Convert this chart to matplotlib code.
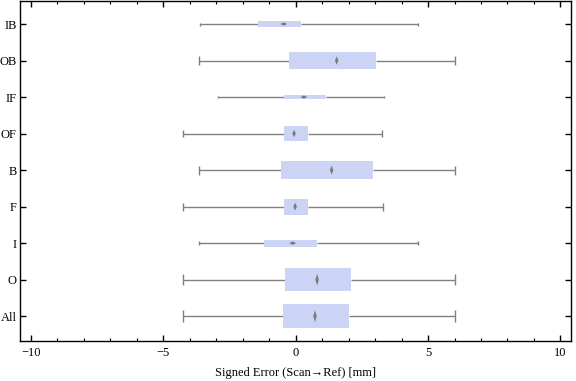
import matplotlib
matplotlib.use("Agg")
import matplotlib.pyplot as plt
import numpy as np
from matplotlib.ticker import MultipleLocator

plt.rcParams['font.family'] = ['Liberation Serif', 'DejaVu Serif']

categories = ["All", "O", "I", "F", "B", "OF", "IF", "OB", "IB"]
whisker_lo = [-4.25, -4.25, -3.65, -4.25, -3.65, -4.25, -2.94, -3.66, -3.62]
q1 = [-0.48, -0.41, -1.20, -0.45, -0.56, -0.45, -0.45, -0.26, -1.43]
median = [0.73, 0.81, -0.11, -0.02, 1.36, -0.06, 0.31, 1.55, -0.45]
q3 = [2.00, 2.08, 0.80, 0.45, 2.91, 0.45, 1.13, 3.03, 0.20]
whisker_hi = [6.02, 6.02, 4.63, 3.31, 6.02, 3.27, 3.32, 6.02, 4.62]
box_height = [0.66, 0.63, 0.19, 0.44, 0.49, 0.41, 0.11, 0.47, 0.165]

box_color = "#ccd4f5"
line_color = "#808080"
med_color = "#7a7a7a"

fig = plt.figure(figsize=(5.76, 3.81), dpi=100)
ax = fig.add_axes([20.3/576, 1 - 341/381, (571-20.3)/576, (341-1)/381])

pos = np.arange(1, len(categories) + 1)
q1a, q3a = np.array(q1), np.array(q3)
h = np.array(box_height)

ax.hlines(pos, whisker_lo, q1, color=line_color, lw=1.0, zorder=1)
ax.hlines(pos, q3, whisker_hi, color=line_color, lw=1.0, zorder=1)
ax.vlines(whisker_lo, pos - h/4, pos + h/4, color=line_color, lw=1.0, zorder=1)
ax.vlines(whisker_hi, pos - h/4, pos + h/4, color=line_color, lw=1.0, zorder=1)
ax.barh(pos, q3a - q1a, left=q1a, height=h, color=box_color, edgecolor="none", zorder=2)

for p, m, hh in zip(pos, median, h):
    if hh < 0.25:
        dw, dh = 0.13, 0.045
    else:
        dw, dh = 0.065, hh / 4
    ax.fill([m - dw, m, m + dw, m], [p, p + dh, p, p - dh], color=med_color, lw=0, zorder=3)

ax.set_xlim(-10.4, 10.4)
ax.set_ylim(0.32, 9.63)
ax.set_yticks(pos)
ax.set_yticklabels(categories)
ax.xaxis.set_major_locator(MultipleLocator(5))
ax.xaxis.set_minor_locator(MultipleLocator(1))
ax.tick_params(axis='both', which='major', direction='in', length=4, width=1,
               top=True, right=True, labelsize=9)
ax.tick_params(axis='y', which='major', pad=2.5)
ax.tick_params(axis='x', which='major', pad=4)
ax.tick_params(axis='x', which='minor', direction='in', length=2.5, width=0.8, top=True)
ax.tick_params(axis='y', which='minor', left=False, right=False)
for s in ax.spines.values():
    s.set_linewidth(1.0)
ax.set_xlabel("Signed Error (Scan\u2192Ref) [mm]", fontsize=9, labelpad=6)

fig.savefig("out.png", dpi=100)
